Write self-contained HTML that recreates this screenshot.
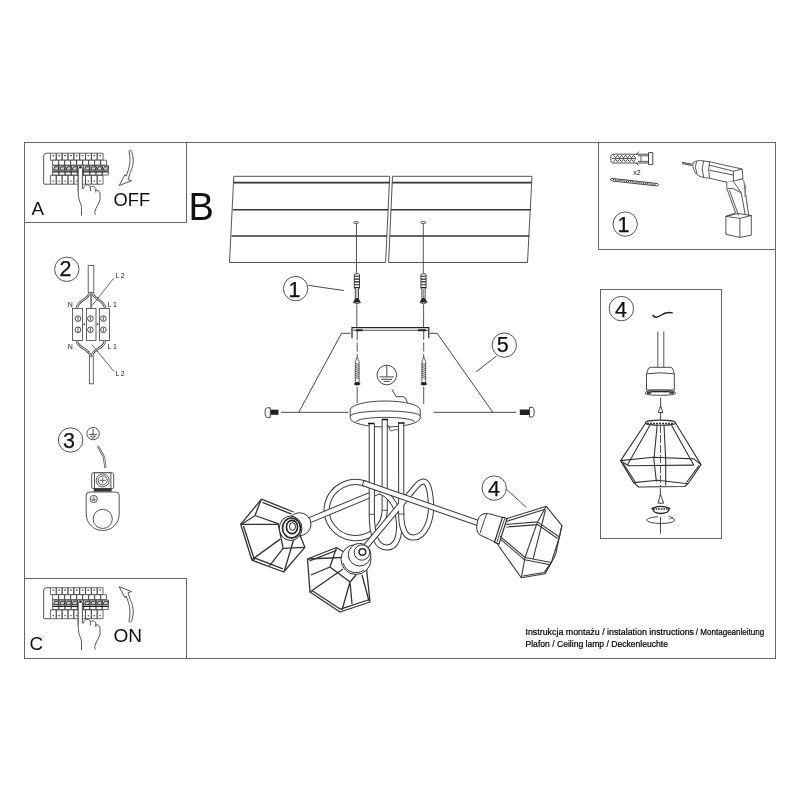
<!DOCTYPE html>
<html><head><meta charset="utf-8">
<style>
html,body{margin:0;padding:0;background:#fff;width:800px;height:800px;overflow:hidden}
svg{display:block;filter:grayscale(1)}
text{font-family:"Liberation Sans",sans-serif}
</style></head>
<body>
<svg width="800" height="800" viewBox="0 0 800 800">
<rect width="800" height="800" fill="#fff"/>
<!-- frames -->
<g fill="none" stroke="#666" stroke-width="1">
<rect x="24.5" y="142.5" width="751" height="516"/>
<path d="M186.5 142.5V222.5H24.5"/>
<path d="M24.5 578.5H186.5V658.5"/>
<path d="M598.5 142.5V249.5H775.5"/>
<rect x="600.5" y="289.5" width="121" height="249"/>
</g>
<!-- letters -->
<g fill="#111">
<text x="31.5" y="214.7" font-size="18.8">A</text>
<text x="113.6" y="206.3" font-size="18.3">OFF</text>
<text x="29.6" y="649.6" font-size="18" textLength="13.6" lengthAdjust="spacingAndGlyphs">C</text>
<text x="113.4" y="641.5" font-size="18.3" textLength="28.6" lengthAdjust="spacingAndGlyphs">ON</text>
<text x="188.5" y="220.4" font-size="38">B</text>
</g>
<g fill="#000" font-size="8.4" stroke="#000" stroke-width="0.2">
<text x="525.5" y="635.3" textLength="168.5" lengthAdjust="spacingAndGlyphs">Instrukcja montażu / instalation instructions</text>
<text x="695.8" y="635.3" textLength="68.5" lengthAdjust="spacingAndGlyphs">/ Montageanleitung</text>
<text x="525.5" y="646.5" textLength="142.5" lengthAdjust="spacingAndGlyphs">Plafon / Ceiling lamp / Deckenleuchte</text>
</g>
<!-- B: ceiling planks -->
<g fill="none" stroke="#555" stroke-width="1">
<path d="M233.8 176.3H389.7L385.6 262.5H229.5Z"/>
<path d="M392.5 176.3H532L527.5 262.5H388.6Z"/>
</g>
<g fill="none" stroke="#333" stroke-width="1.6">
<path d="M233.5 182.6H389.4M233 209.8H388.3M231.6 236H387.1"/>
<path d="M392.2 182.6H531.7M391 209.8H530.5M389.9 236H529.2"/>
</g>
<!-- holes -->
<g fill="none" stroke="#444" stroke-width="0.9">
<ellipse cx="356.2" cy="222.5" rx="2.6" ry="1"/>
<ellipse cx="423.3" cy="222.5" rx="2.6" ry="1"/>
</g>
<!-- vertical guides -->
<g stroke="#444" stroke-width="0.9" fill="none">
<path d="M356.5 223.5V273.5M356.8 304.5V327M423.3 223.5V273.5M423.6 304.5V327"/>
<path d="M357.2 331V357" stroke-dasharray="9 2.5"/><path d="M357.2 387V403"/>
<path d="M423.7 331V357" stroke-dasharray="9 2.5"/><path d="M423.7 387V404"/>
</g>
<!-- anchors (ribbed plugs with screw heads) -->
<defs>
<g id="anch">
<path d="M-2.6 0.5Q-2.6 -0.2 0 -0.2Q2.6 -0.2 2.6 0.5V14.3H-2.6Z" fill="#fff" stroke="#333" stroke-width="0.9"/>
<path d="M-2.6 2.3H2.6M-2.6 5.1H2.6M-2.6 7.9H2.6M-2.6 10.7H2.6M-2.6 13.5H2.6" stroke="#222" stroke-width="1.1"/>
<path d="M-1.6 14.3V24.5H1.6V14.3" fill="#fff" stroke="#333" stroke-width="0.9"/>
<path d="M0 15V24" stroke="#777" stroke-width="0.8"/>
<path d="M-1.8 24.5H1.8L3.8 28.4H-3.8Z" fill="#222"/>
<path d="M-3.8 28.4Q0 31 3.8 28.4" fill="none" stroke="#333" stroke-width="0.9"/>
</g>
<g id="wscrew">
<path d="M0 -1L-1.9 3.5V24.5H1.9V3.5Z" fill="#fff" stroke="#333" stroke-width="0.8"/>
<path d="M-1.9 5.5L1.9 6.5M-1.9 7.5L1.9 8.5M-1.9 9.5L1.9 10.5M-1.9 11.5L1.9 12.5M-1.9 13.5L1.9 14.5M-1.9 15.5L1.9 16.5M-1.9 17.5L1.9 18.5M-1.9 19.5L1.9 20.5" stroke="#333" stroke-width="0.8"/>
<path d="M-1.9 24.3H1.9L3.2 26H-3.2Z" fill="#222"/>
<path d="M-3.2 26Q0 28.5 3.2 26" fill="#222" stroke="#222" stroke-width="0.6"/>
</g>
</defs>
<use href="#anch" x="356.9" y="274"/>
<use href="#anch" x="423.5" y="274"/>
<use href="#wscrew" x="357.2" y="358"/>
<use href="#wscrew" x="423.8" y="358"/>
<!-- bracket -->
<g fill="none" stroke="#222" stroke-width="1.2">
<path d="M352 338.2V327.6H428.8V338.2"/>
<path d="M353 330.3H428" stroke="#444" stroke-width="0.9"/>
</g>
<path d="M356 329.2H362.5V331.2H356ZM418 329.2H426V331.2H418Z" fill="#222"/>
<!-- perspective lines / callout 5 -->
<g fill="none" stroke="#333" stroke-width="0.9">
<path d="M350.5 333.3H341.5L298.8 412.3"/>
<path d="M429.7 333.3H437.2L492.8 412.3"/>
<path d="M280.8 412.3H348.3M433.5 412.3H516"/>
<path d="M496.5 356L476.2 371.8"/>
<path d="M308.4 285.4L343.8 290.5"/>
</g>
<!-- machine screws -->
<g>
<path d="M270.3 409.7H278.5V414.8H270.3Z" fill="#222"/>
<path d="M270.3 407.8H267Q265 407.8 265 412.5Q265 417.4 267 417.4H270.3Z" fill="#fff" stroke="#333" stroke-width="0.9"/>
<path d="M519.8 409.5H529.5V415H519.8Z" fill="#222"/>
<path d="M529.5 407.3H532Q534.2 407.3 534.2 412.2Q534.2 417 532 417H529.5Z" fill="#fff" stroke="#333" stroke-width="0.9"/>
</g>
<!-- ground symbol B -->
<g fill="none" stroke="#333" stroke-width="0.9">
<circle cx="386.8" cy="375" r="9.8"/>
<path d="M386.8 365.5V376.9M379.6 376.9H393.8M381.3 379.3H392.2M383.8 381.4H389.8"/>
<path d="M391.9 389.4L396.2 396.6Q398 397.2 400 396.6Q404 396 405.5 398L407.5 402.5"/>
</g>
<!-- B: canopy -->
<g stroke="#333" stroke-width="0.9">
<path d="M350.2 410A35 9 0 0 1 420.2 410V418A35 9 0 0 1 350.2 418Z" fill="#fff"/>
<path d="M350.5 416A34.7 5 0 0 1 420 416M356 422A29 4.6 0 0 1 414.5 422" fill="none"/>
</g>
<!-- lamp tubes -->
<defs>
<path id="arm1" d="M384.7 420V510A29 28 0 1 1 365.4 483.7"/>
<path id="arm1b" d="M363 483L478 523"/>
<path id="arm2a" d="M392 497C388 494 384 492 380 491L310 520"/>
<path id="arm2" d="M371.8 424V514C371.8 538 378 547.5 387 547.5C396 547.5 400 537 399 522C398 508 393 497 380 491"/>
<path id="arm3" d="M401.2 423V514C401.2 530 406 538 414 537.5C425 537 432 520 431 503C430 490 428 481 423 481.5C420 482 418 484 416 486.5L362 551"/>
</defs>
<g fill="none" stroke-linecap="butt">
<use href="#arm1" stroke="#3a3a3a" stroke-width="6.2"/>
<use href="#arm1" stroke="#fff" stroke-width="4.2"/>
<use href="#arm2a" stroke="#3a3a3a" stroke-width="6.2"/>
<use href="#arm2a" stroke="#fff" stroke-width="4.2"/>
<use href="#arm2" stroke="#3a3a3a" stroke-width="6.2"/>
<use href="#arm2" stroke="#fff" stroke-width="4.2"/>
<use href="#arm3" stroke="#3a3a3a" stroke-width="6.2"/>
<use href="#arm3" stroke="#fff" stroke-width="4.2"/>
<use href="#arm1b" stroke="#3a3a3a" stroke-width="6.2"/>
<use href="#arm1b" stroke="#fff" stroke-width="4.2"/>
</g>
<path d="M363.8 480.2L362.4 486" stroke="#3a3a3a" stroke-width="0.9"/>
<!-- rod top caps -->
<path d="M368 423.5H374.5M381.8 419.5H388M398 423H404.6" stroke="#111" stroke-width="1.5"/>
<path d="M387.6 425Q390 427 389.5 429Q390 432 394 430Q396.5 429 398.2 430" fill="none" stroke="#333" stroke-width="0.8"/>
<!-- joints -->
<path d="M368.8 514.3H374.8M382 510.3H387.6M398.2 514H404.3" stroke="#444" stroke-width="0.9"/>
<!-- left shade -->
<g fill="none" stroke="#333" stroke-width="1.3" stroke-linejoin="round">
<path d="M261.5 499.1L293.5 512M262.5 502.3L291.5 514.2"/>
<path d="M261.5 499.1L240.7 524.3L252 560.2L283.7 572L304.8 547.3L300 535"/>
<path d="M243.5 526L254.5 560"/>
<path d="M253.5 557.5L283 568.8"/>
<path d="M261.5 499.1L255 515.5L278.1 523.7L283.2 548.4L304.8 547.3"/>
<path d="M240.7 524.3H278.1"/>
<path d="M242 524L254.8 515.8"/>
<path d="M280.2 539.1L252 559.6M283.2 548.4L269.4 565.8M293.5 540.2L284.3 571"/>
</g>
<!-- left socket -->
<circle cx="299.5" cy="524.2" r="11.5" fill="#fff" stroke="#333" stroke-width="1"/>
<g fill="#fff" stroke="#222">
<ellipse cx="290.6" cy="528.3" rx="11.3" ry="12.2" stroke-width="1"/>
<ellipse cx="291.5" cy="528" rx="9" ry="10" stroke-width="1.6"/>
<ellipse cx="292" cy="527" rx="5.6" ry="6.6" stroke-width="1.6"/>
<ellipse cx="292.5" cy="526.5" rx="3" ry="3.8" stroke-width="1" fill="none"/>
</g>
<!-- bottom shade -->
<g fill="none" stroke="#333" stroke-width="1.3" stroke-linejoin="round">
<path d="M336.5 547.5L307.5 559L310 592L340 612L370 602L366.5 568.5"/>
<path d="M336.5 550.3L309.5 561"/>
<path d="M312 590.5L340.5 609.2L368 600"/>
<path d="M336.5 547.5L344 552M307.5 559L341 557.5"/>
<path d="M336.5 547.5L330 567L311 575M330 567L350 582L342 610M350 582L352 604M310 592L343 569M350 582L356 575M362 575L369 601"/>
</g>
<!-- bottom socket -->
<g fill="#fff" stroke="#333" stroke-width="1">
<circle cx="356" cy="559.5" r="15"/>
<path d="M343 563A13.5 13.5 0 0 0 364 570" fill="none"/>
<circle cx="359.6" cy="554.7" r="11.3"/>
<circle cx="361.9" cy="552.5" r="7.7"/>
<circle cx="362.4" cy="552" r="3.3" stroke-width="1.6"/>
</g>
<!-- right socket -->
<g fill="#fff" stroke="#333" stroke-width="1">
<path d="M488.5 513.6L505 518.1L496.3 542.5L481 535.5Q476.5 533.5 476.8 527Q477.2 518.5 480.5 515.5Q483.5 512.8 488.5 513.6Z"/>
<path d="M486.5 514L480 533" fill="none" stroke-width="0.9"/>
<path d="M502.5 517.2L507 518.6L499 544L494.5 542.5Z" stroke="#222" stroke-width="1.1"/>
<path d="M504.5 519L497 542" fill="none" stroke="#444" stroke-width="1"/>
</g>
<!-- right shade -->
<g fill="none" stroke="#3a3a3a" stroke-width="1.1" stroke-linejoin="round">
<path d="M506.3 518.8L546.3 506.3L561.9 525.6L559.4 537L551.3 562.5L545 573.8L521.3 577.8L496.3 542.5"/>
<path d="M506.5 521.4L545 509.3"/>
<path d="M506.3 524.4L537.5 521.9L546.3 506.3M506.3 527L538 524.6"/>
<path d="M537.5 521.9L559.4 537M538 524.8L557.5 538.5"/>
<path d="M545.5 510L533.1 558.8M537.5 521.9L525 557.5L521.3 577.8"/>
<path d="M500 536.3L525 557.5L551.3 562.5M500.5 539.2L524.5 559.8L549 564.5"/>
<path d="M523 576L544 572.5L550 564"/>
<path d="M561.9 525.6L555.5 555L545 573.8"/>
</g>
<path d="M506.4 489.2L526.3 507.5" stroke="#444" stroke-width="0.9" fill="none"/>
<!-- box A / C -->
<g id="panelA">
<path d="M50.4 153.2H46Q43.6 153.6 43.6 156.5V183.5Q43.6 184.2 45 184.2H50.4" fill="#fff" stroke="#444" stroke-width="0.9"/>
<path d="M50.40 153.2h5.85v7h-5.85ZM56.25 153.2h5.85v7h-5.85ZM62.10 153.2h5.85v7h-5.85ZM67.95 153.2h5.85v7h-5.85ZM73.80 153.2h5.85v7h-5.85ZM79.65 153.2h5.85v7h-5.85ZM85.50 153.2h5.85v7h-5.85ZM91.35 153.2h5.85v7h-5.85ZM97.20 153.2h5.85v7h-5.85ZM50.40 175.4h5.85v8.8h-5.85ZM56.25 175.4h5.85v8.8h-5.85ZM62.10 175.4h5.85v8.8h-5.85ZM67.95 175.4h5.85v8.8h-5.85ZM73.80 175.4h5.85v8.8h-5.85ZM79.65 175.4h5.85v8.8h-5.85ZM85.50 175.4h5.85v8.8h-5.85ZM91.35 175.4h5.85v8.8h-5.85ZM97.20 175.4h5.85v8.8h-5.85Z" fill="#fff" stroke="#444" stroke-width="0.8"/>
<path d="M52.60 160.2h6v4.9h-6ZM58.60 160.2h6v4.9h-6ZM64.60 160.2h6v4.9h-6ZM70.60 160.2h6v4.9h-6ZM76.60 160.2h6v4.9h-6ZM82.60 160.2h6v4.9h-6ZM88.60 160.2h6v4.9h-6ZM94.60 160.2h6v4.9h-6ZM100.60 160.2h6v4.9h-6ZM52.60 165.6h6.2v9.4h-6.2ZM58.80 165.6h6.2v9.4h-6.2ZM65.00 165.6h6.2v9.4h-6.2ZM71.20 165.6h6.2v9.4h-6.2ZM77.40 165.6h6.2v9.4h-6.2ZM83.60 165.6h6.2v9.4h-6.2ZM89.80 165.6h6.2v9.4h-6.2ZM96.00 165.6h6.2v9.4h-6.2ZM102.20 165.6h6.2v9.4h-6.2Z" fill="#fff" stroke="#444" stroke-width="0.8"/>
<path d="M54.60 166.8h4.4l-1.0 3.4h-4.4ZM60.80 166.8h4.4l-1.0 3.4h-4.4ZM67.00 166.8h4.4l-1.0 3.4h-4.4ZM73.20 166.8h4.4l-1.0 3.4h-4.4ZM85.60 166.8h4.4l-1.0 3.4h-4.4ZM91.80 166.8h4.4l-1.0 3.4h-4.4ZM98.00 166.8h4.4l-1.0 3.4h-4.4ZM104.20 166.8h4.4l-1.0 3.4h-4.4Z" fill="#ccc" stroke="#222" stroke-width="0.9"/>
<path d="M52.6 171.9H108.4" stroke="#222" stroke-width="1.4"/>
<path d="M52.42 155h1.8v1.3h-1.8ZM52.62 180.5h1.4v1.2h-1.4ZM58.27 155h1.8v1.3h-1.8ZM58.47 180.5h1.4v1.2h-1.4ZM64.12 155h1.8v1.3h-1.8ZM64.32 180.5h1.4v1.2h-1.4ZM69.97 155h1.8v1.3h-1.8ZM70.17 180.5h1.4v1.2h-1.4ZM75.82 155h1.8v1.3h-1.8ZM76.02 180.5h1.4v1.2h-1.4ZM81.67 155h1.8v1.3h-1.8ZM81.88 180.5h1.4v1.2h-1.4ZM87.52 155h1.8v1.3h-1.8ZM87.72 180.5h1.4v1.2h-1.4ZM93.37 155h1.8v1.3h-1.8ZM93.57 180.5h1.4v1.2h-1.4ZM99.22 155h1.8v1.3h-1.8ZM99.42 180.5h1.4v1.2h-1.4Z" fill="#555"/>
<path d="M78.2 168.5V190.8C78.2 194 78.5 197 79 199.1C79.6 202 81.5 204.5 81.5 207.5V215.6" fill="none" stroke="#444" stroke-width="0.9"/>
<path d="M78.2 190.8V168.5Q80 165 82.4 167.5V188.9" fill="#fff" stroke="#444" stroke-width="0.9"/>
<path d="M83.5 188.9C83.6 186.5 85 184.8 86.8 184.8C89 184.5 90.4 186 90.4 188V191.1M90.4 187.5C91 186 94.5 185.5 95.8 188.6V192.5M95.8 190.5C96.5 189.7 99.5 190.5 100 193V199.6C99 204 96 207 94.8 211.8C94.5 213 95.5 214.5 95.3 215" fill="none" stroke="#444" stroke-width="0.9"/>
<circle cx="80.3" cy="167.2" r="1.3" fill="#333"/>
</g>
<use href="#panelA" transform="translate(0 434.5)"/>
<path id="arrOff" d="M129 151.5C128.8 149.8 131.6 149.8 131.6 151.5C133.8 157.5 134.2 165 130.3 172.4L128.1 179.6L131.5 180.7L119.2 185.6L124.9 174.6L126.1 176.3C129 169 131.4 161.5 129 151.5Z" fill="#fff" stroke="#444" stroke-width="0.9" stroke-linejoin="round"/>
<use href="#arrOff" transform="matrix(1 0 0 -1 0 772.3)"/>
<!-- wiring diagram 2 -->
<g fill="#fff" stroke="#555" stroke-width="0.9">
<rect x="88.2" y="265.4" width="5.6" height="27"/>
<rect x="89.4" y="356.3" width="3.9" height="27.5"/>
<rect x="72.5" y="308.5" width="10" height="32"/>
<rect x="86.5" y="308.5" width="9.5" height="32"/>
<rect x="99.5" y="308.5" width="10" height="32"/>
</g>
<g fill="none" stroke="#444" stroke-width="2.4">
<path d="M89.6 293.5C88 300 77.5 300 76.8 308.3M92.8 293.5C94 300 104.5 300 105.2 308.3"/>
<path d="M76.9 340.6C77.5 349 89.5 348 90.6 356.3M105 340.6C104.5 349 92.5 348 92 356.3"/>
</g>
<g fill="none" stroke="#fff" stroke-width="0.9">
<path d="M89.6 293.5C88 300 77.5 300 76.8 308.3M92.8 293.5C94 300 104.5 300 105.2 308.3"/>
<path d="M76.9 340.6C77.5 349 89.5 348 90.6 356.3M105 340.6C104.5 349 92.5 348 92 356.3"/>
</g>
<path d="M91.1 293V308.3" stroke="#888" stroke-width="2"/>
<g fill="#fff" stroke="#333" stroke-width="0.9">
<circle cx="78" cy="318.6" r="2.8"/><circle cx="90.4" cy="318.6" r="2.8"/><circle cx="103.4" cy="318.6" r="2.8"/>
<circle cx="78" cy="329.8" r="2.8"/><circle cx="90.4" cy="329.8" r="2.8"/><circle cx="103.4" cy="329.8" r="2.8"/>
</g>
<path d="M78 316.6V320.6M90.4 316.6V320.6M103.4 316.6V320.6M78 327.8V331.8M90.4 327.8V331.8M103.4 327.8V331.8" stroke="#333" stroke-width="0.8"/>
<path d="M83.6 323.6h1.5v1.5h-1.5ZM96.8 323.6h1.5v1.5h-1.5Z" fill="#333"/>
<g stroke="#444" stroke-width="0.8" fill="none">
<path d="M113.9 278.1L92.1 305.5M91.6 344.4L114 371.4"/>
</g>
<g fill="#222" font-size="7">
<text x="67.8" y="307.2">N</text>
<text x="107.6" y="307.2" letter-spacing="1.4">L1</text>
<text x="115.5" y="277.6" letter-spacing="1.4">L2</text>
<text x="67.8" y="348.6">N</text>
<text x="107.6" y="348.6" letter-spacing="1.4">L1</text>
<text x="115.5" y="375.6" letter-spacing="1.4">L2</text>
</g>
<!-- lug 3 -->
<g fill="none" stroke="#444" stroke-width="0.9">
<circle cx="93.1" cy="433.6" r="6.2"/>
<path d="M93.1 428.6V434.4M89 434.4H97.2M90.3 436.2H95.9M91.6 438H94.6"/>
</g>
<path d="M97.9 446L104 457L105.4 468" fill="none" stroke="#555" stroke-width="2.2"/>
<path d="M97.9 446L104 457L105.4 468" fill="none" stroke="#fff" stroke-width="0.7"/>
<g fill="#fff" stroke="#444" stroke-width="0.9">
<path d="M86.2 495Q86.2 492 90 492H115.4Q119.2 492 119.2 495V514A16.5 16.5 0 0 1 86.2 514Z"/>
<circle cx="102.7" cy="518.9" r="9.6"/>
<rect x="91.7" y="472.8" width="22" height="15.8" rx="1.5"/>
<rect x="94.5" y="472.8" width="16.4" height="15.8"/>
<circle cx="102.7" cy="480.4" r="6.5"/>
<circle cx="102.7" cy="480.4" r="4.5"/>
<circle cx="93.75" cy="499" r="3.6"/>
</g>
<path d="M102.7 477.4V483.4M99.7 480.4H105.7" stroke="#444" stroke-width="0.8"/>
<path d="M93.75 496.4V499.3M91.3 499.3H96.2M92.1 500.6H95.4" stroke="#444" stroke-width="0.7"/>
<rect x="93.75" y="488.4" width="17.9" height="3.2" fill="#333"/>
<!-- box 1: anchor, screw, drill -->
<g stroke="#333" stroke-width="0.9">
<path d="M613 154.2H648.5V163H613Q610.8 163 610.8 158.6Q610.8 154.2 613 154.2Z" fill="#fff"/>
<path d="M648.5 152.6H652.8V164.6H648.5Z" fill="#fff"/>
<path d="M636.5 154.2L639 151.6M636.5 163L638.5 165.4" fill="none"/>
<path d="M613.5 155.4 L615.5 157.8 L617.5 155.4 L619.5 157.8 L621.5 155.4 L623.5 157.8 L625.5 155.4 L627.5 157.8 L629.5 155.4 L631.5 157.8 L633.5 155.4 L635.5 157.8M613.5 161.8 L615.5 159.4 L617.5 161.8 L619.5 159.4 L621.5 161.8 L623.5 159.4 L625.5 161.8 L627.5 159.4 L629.5 161.8 L631.5 159.4 L633.5 161.8 L635.5 159.4M612 158.6H636" stroke="#333" stroke-width="0.9" fill="none"/>
<path d="M638 155.8H648M638 161.4H648M641 156V161.2" fill="none" stroke-width="0.8"/>
</g>
<g>
<path d="M611 178.3L657.5 183.5Q659.3 184.3 657.5 186L612 181Q609.5 180 611 178.3Z" fill="#fff" stroke="#333" stroke-width="0.9"/>
<path d="M613 179.6L656 184.6" stroke="#333" stroke-width="1.5" stroke-dasharray="1 0.9"/>
</g>
<text x="633.3" y="174.8" font-size="7" fill="#222">x2</text>
<g fill="none" stroke="#444" stroke-width="0.9" stroke-linejoin="round">
<path d="M682 162.3L692.5 164.2M682 163.6L692.5 165.6" stroke="#333" stroke-width="0.8"/>
<path d="M683.5 162.5l0.6 1.4M685.5 162.9l0.6 1.4M687.5 163.3l0.6 1.4M689.5 163.7l0.6 1.4" stroke="#333" stroke-width="0.7"/>
<path d="M692.8 163Q695 160.6 700.5 160.5L709.6 161.8L742.1 169L743 178.6L733 181.3L727.2 182.4L709.6 178.2Q700 177.8 696.5 174Q692.5 170 692.8 163Z" fill="#fff"/>
<path d="M696.5 161.5Q694 167 697 174M703.6 160.8Q700.8 169 703.6 177M709.6 161.8Q707.8 170 709.6 178.2"/>
<path d="M708.9 165L733.4 171.2L742.1 169M709.7 170.3L733.4 175.1M733.4 171.2V181.3"/>
<path d="M726.8 181.4V188.4L735.6 212.9L725.9 216.4V234.3L739.9 237.4L751.3 235.2V215.5L748.7 215.5L743.9 181.4" fill="#fff"/>
<path d="M727.7 188.4L733 188.6L741.2 192.8M729.4 190.1L738.6 215.5M741.2 192.8L745.2 214.6M733.4 181.3L741.2 192.8M743.9 181.4L742 178.6"/>
<path d="M725.9 216.4L738 213.5L751.3 215.5M725.9 216.4L739.9 218.4L751.3 215.5M739.9 218.4V237.4"/>
<path d="M745.2 185V197" stroke="#888" stroke-width="1.6"/>
</g>
<!-- box 4 contents -->
<g fill="none" stroke="#333" stroke-width="1">
<path d="M652.5 315C654.5 317.8 657.5 317.8 661 315.3C664.5 312.5 668 312 672.8 312.9" stroke="#222" stroke-width="1.4"/>
<path d="M657.8 331.5V367.5M663.8 331.5V367.5" stroke="#444" stroke-width="0.9"/>
</g>
<g fill="#fff" stroke="#333" stroke-width="0.9">
<path d="M650.5 367.3H670.5Q672.3 367.3 673 369.5L674.3 373.8V390H646.5V373.8L648 369.5Q648.8 367.3 650.5 367.3Z"/>
<path d="M647 373.8Q660.4 371.8 674 373.8" fill="none"/>
<path d="M645.2 393Q645.2 390 660.4 390Q675.6 390 675.6 393Q675.6 395.3 660.4 395.3Q645.2 395.3 645.2 393Z"/>
<path d="M647 392.3Q660.4 390.6 674 392.3" fill="none" stroke="#222" stroke-width="1.3"/>
<path d="M647 393.2h4M669.5 393.2h4M655 391.6h11" stroke="#222" stroke-width="1.2"/>
</g>
<g stroke="#333" stroke-width="0.9" fill="none">
<path d="M660.6 397.5V420.5"/>
<path d="M660.6 406L658.3 412.5H662.9Z" fill="#fff"/>
<path d="M660.4 488.2V504"/>
<path d="M660.4 494.2L658.1 503.2H663.7Z" fill="#fff"/>
<path d="M660.5 516.8V533.6"/>
<path d="M672.1 518.15A13.9 3.4 0 1 1 657.86 516.77"/>
<path d="M668.5 516.2L672.5 517.6L669.5 519" stroke-width="0.8"/>
</g>
<g fill="#fff" stroke="#222" stroke-width="1.3">
<path d="M652.1 508.3Q660.8 504.5 669.7 508.3L667.5 512Q660.8 515 654.4 512Z"/>
<path d="M653 509H668.8" stroke-dasharray="1.6 1"/>
</g>
<!-- box 4 shade -->
<g fill="none" stroke="#333" stroke-width="1.1" stroke-linejoin="round">
<ellipse cx="660.5" cy="422.7" rx="15.1" ry="2.6" fill="#fff"/>
<path d="M647 423.5H674" stroke-width="1.5" stroke-dasharray="2 1"/>
<path d="M645.5 423.2L620.6 460.6L633.6 482.6L638.6 487L684.7 486.5L688.1 483.7L701 464.6L675.7 423.2"/>
<path d="M649.9 425.2L627.4 465.1M671.5 425.2L693.7 465"/>
<path d="M620.6 460.6L653.2 457.2L693.7 458.9L701 464.6M620.6 460.6L628.5 465.7L693.7 465.1"/>
<path d="M623 463L636 483.3M699 465.5L686.5 482.5"/>
<path d="M633.6 482.6L657.7 480.3L688.1 483.7"/>
<path d="M657.2 425L653.9 459.7L656.4 481.6M664 425L665.7 459.7L665.7 485.5"/>
</g>
<path d="M660.5 425V487" stroke="#444" stroke-width="0.9" stroke-dasharray="8 2"/>
<!-- numbered circles -->
<g fill="none" stroke="#555" stroke-width="1">
<circle cx="66.8" cy="269.3" r="12.2"/>
<circle cx="70.6" cy="440" r="12.2"/>
<circle cx="625.2" cy="224.1" r="12.2"/>
<circle cx="621.4" cy="308.6" r="12.2"/>
<circle cx="295.6" cy="288.6" r="12.2"/>
<circle cx="504.3" cy="345.1" r="12.2"/>
<circle cx="494.2" cy="488.1" r="12.2"/>
</g>
<g fill="#111" font-size="21.5" text-anchor="middle" stroke="#111" stroke-width="0.25">
<text x="65.4" y="276.4">2</text>
<text x="69.1" y="448">3</text>
<text x="623.4" y="232.4">1</text>
<text x="621" y="316.8">4</text>
<text x="294.4" y="296.6">1</text>
<text x="502.7" y="352.2">5</text>
<text x="494" y="496.2">4</text>
</g>
</svg>
</body></html>
